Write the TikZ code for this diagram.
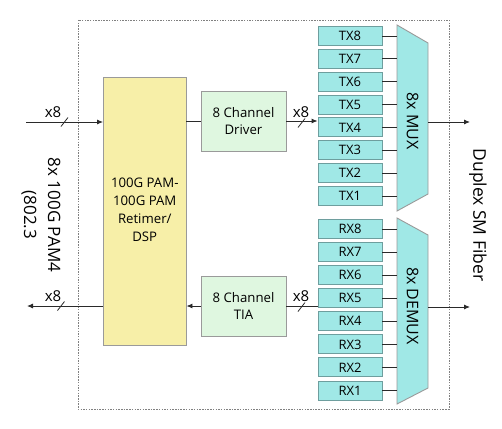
\documentclass[tikz,border=0pt]{standalone}
\usepackage{fontspec}
\setmainfont{Open Sans}
\usetikzlibrary{arrows.meta}
\definecolor{yel}{HTML}{F7EFA8}
\definecolor{grn}{HTML}{DFF7E0}
\definecolor{cyn}{HTML}{A0E8E6}
\definecolor{cynb}{HTML}{6E9E9E}
\definecolor{boxb}{HTML}{9A9A9A}
\definecolor{ln}{HTML}{2A2A2A}
\begin{document}
\begin{tikzpicture}[x=1pt,y=-1pt,
  conn/.style={draw=ln, line width=0.9pt},
  arr/.style={conn, -{Latex[length=6pt,width=5pt]}},
  blk/.style={draw=boxb, line width=0.9pt, inner sep=0pt, align=center, font=\fontsize{13.2}{17.7}\selectfont},
  lane/.style={draw=cynb, fill=cyn, line width=0.9pt, minimum width=64pt, minimum height=19pt, inner sep=0pt, font=\fontsize{13}{14}\selectfont},
  mx/.style={draw=boxb, fill=cyn, line width=0.9pt},
  xlab/.style={font=\fontsize{15}{16}\selectfont, inner sep=0pt},
  slashmark/.style={draw=ln, line width=0.8pt},
  side/.style={rotate=-90, align=center, inner sep=0pt}]
\useasboundingbox (0,0) rectangle (502,428);
% frame
\draw[gray, line width=0.5pt, dash pattern=on 1.5pt off 1.2pt] (78,20) rectangle (449,409);
% blocks
\node[blk, fill=yel, minimum width=82.5pt, minimum height=268pt] (ret) at (144.75,211) {\raisebox{-8pt}{\begin{tabular}{@{}c@{}}100G PAM-\\100G PAM\\Retimer/\\DSP\end{tabular}}};
\node[blk, fill=grn, minimum width=85pt, minimum height=60pt] (drv) at (243.5,121) {8 Channel\\Driver};
\node[blk, fill=grn, minimum width=85pt, minimum height=60pt] (tia) at (243.5,306) {8 Channel\\TIA};
% TX / RX lanes
\foreach \k in {1,...,8}{
  \node[lane] (tx\k) at (350,{196-(\k-1)*22.86}) {TX\k};
  \node[lane] (rx\k) at (350,{390.5-(\k-1)*23.07}) {RX\k};
}
% MUX / DEMUX
\draw[mx] (397,25) -- (428,43) -- (428,194) -- (397,211) -- cycle;
\draw[mx] (397,218) -- (428,235) -- (428,388) -- (397,404) -- cycle;
\coordinate (muxL) at (397,118);
\coordinate (muxR) at (428,122);
\coordinate (dmxL) at (397,311);
\coordinate (dmxR) at (428,307);
\node[side, font=\fontsize{16}{18}\selectfont] (muxlab) at (412.5,121) {8x MUX};
\node[side, font=\fontsize{16}{18}\selectfont] (dmxlab) at (412.5,306) {8x DEMUX};
\foreach \k in {1,...,8}{
  \draw[conn] (tx\k.east) -- (tx\k.east -| muxL);
  \draw[conn] (rx\k.east) -- (rx\k.east -| dmxL);
}
% outside coordinates
\coordinate (inL) at (26,122);
\coordinate (outL) at (27,306);
\coordinate (muxout) at (470,122);
\coordinate (dmxout) at (470,307);
% connectors
\draw[arr] (inL) -- (inL -| ret.west);
\draw[conn] (ret.east |- drv.west) -- (drv.west);
\draw[arr] (drv.east) -- (drv.east -| tx4.west);
\draw[arr] (muxR) -- (muxout);
\draw[arr] (dmxR) -- (dmxout);
\draw[conn] (rx5.west |- tia.east) -- (tia.east);
\draw[arr] (tia.west) -- (tia.west -| ret.east);
\draw[arr] (outL -| ret.west) -- (outL);
% x8 labels and slashes
\node[xlab] (x8a) at (53,112) {x8};
\node[xlab] (x8b) at (53,296) {x8};
\node[xlab] (x8c) at (301,112) {x8};
\node[xlab] (x8d) at (301,296) {x8};
\draw[slashmark] (64.5,122) ++(-3.5,4.5) -- ++(7,-9);
\draw[slashmark] (61,306) ++(-3.5,4.5) -- ++(7,-9);
\draw[slashmark] (301.5,123) ++(-3.5,4.5) -- ++(7,-9);
\draw[slashmark] (301.5,307) ++(-3.5,4.5) -- ++(7,-9);
% side labels
\node[side, font=\fontsize{17}{24}\selectfont] (pam) at (41,215) {8x 100G PAM4\\(802.3};
\node[side, font=\fontsize{17.5}{22}\selectfont] (fiber) at (478,215) {Duplex SM Fiber};
\end{tikzpicture}
\end{document}
